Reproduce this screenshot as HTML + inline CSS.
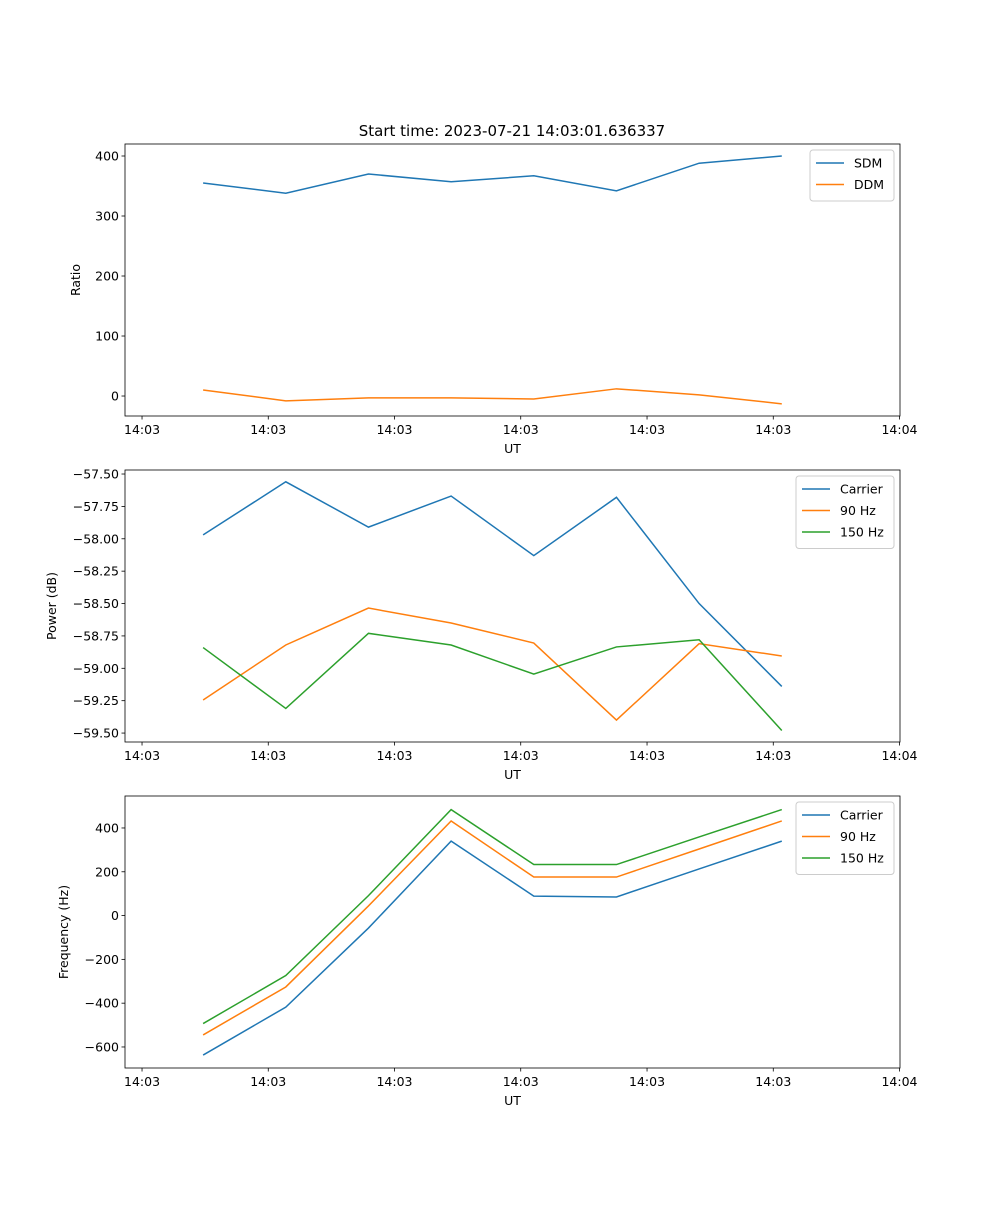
<!DOCTYPE html>
<html><head><meta charset="utf-8"><style>
body{margin:0;background:#fff}
svg text{font-family:"DejaVu Sans","Liberation Sans",sans-serif;font-size:12.5px;fill:#000}
</style></head><body>
<svg id="fig" width="1000" height="1200" xmlns="http://www.w3.org/2000/svg">
<text x="512" y="136" text-anchor="middle" style="font-size:15px">Start time: 2023-07-21 14:03:01.636337</text>
</svg>
<script>
const xIndex=[0,1,2,3,4,5,6,7];
const xTickPos=[-0.739,0.788,2.315,3.842,5.370,6.897,8.424];
const xTickLabels=["14:03","14:03","14:03","14:03","14:03","14:03","14:04"];
const sdm=[355,338,370,357,367,342,388,400];
const ddm=[10,-8,-3,-3,-5,12,2,-13];
const ratioTicks=[0,100,200,300,400];
const powCarrier=[-57.97,-57.56,-57.91,-57.67,-58.13,-57.68,-58.50,-59.14];
const pow90=[-59.245,-58.82,-58.535,-58.65,-58.805,-59.40,-58.81,-58.905];
const pow150=[-58.84,-59.31,-58.73,-58.82,-59.045,-58.835,-58.78,-59.48];
const powTicks=[-57.5,-57.75,-58.0,-58.25,-58.5,-58.75,-59.0,-59.25,-59.5];
const powTickLabels=["−57.50","−57.75","−58.00","−58.25","−58.50","−58.75","−59.00","−59.25","−59.50"];
const freqCarrier=[-637,-418,-57,340,89,85,213,340];
const freq90=[-545,-326,44,432,176,176,304,432];
const freq150=[-493,-274,91,484,233,233,359,484];
const freqTicks=[-600,-400,-200,0,200,400];
const C=["#1f77b4","#ff7f0e","#2ca02c"];
const svg=document.getElementById('fig');
const NS="http://www.w3.org/2000/svg";
function mk(t,a,p){const e=document.createElementNS(NS,t);for(const k in a)e.setAttribute(k,a[k]);(p||svg).appendChild(e);return e;}
const L=125,R=900,xmin=-0.945,xmax=8.43;
function xs(v){return L+(v-xmin)/(xmax-xmin)*(R-L);}
function panel(name,top,bot,ymin,ymax,yt,ytl,ylab,series,labels,legW){
  const g=mk('g',{});
  
  
  const ys=v=>bot-(v-ymin)/(ymax-ymin)*(bot-top);
  series.forEach((s,i)=>{
    const pl=mk('polyline',{points:s.map((v,j)=>xs(xIndex[j])+','+ys(v)).join(' '),fill:'none',stroke:C[i],'stroke-width':1.5},g);
    
    
  });
  const fr=mk('rect',{x:L,y:top,width:R-L,height:bot-top,fill:'none',stroke:'#000','stroke-width':0.8},g);
  
  
  xTickPos.forEach((v,i)=>{const x=xs(v);mk('line',{x1:x,x2:x,y1:bot,y2:bot+3.5,stroke:'#000','stroke-width':0.8},g);
    const t=mk('text',{x:x,y:bot+18,'text-anchor':'middle'},g);t.textContent=xTickLabels[i];
    
    });
  yt.forEach((v,i)=>{const y=ys(v);mk('line',{x1:L-3.5,x2:L,y1:y,y2:y,stroke:'#000','stroke-width':0.8},g);
    const t=mk('text',{x:L-6,y:y+4.5,'text-anchor':'end'},g);t.textContent=ytl[i];
    
    });
  const xl=mk('text',{x:(L+R)/2,y:bot+37,'text-anchor':'middle'},g);xl.textContent='UT';
  
  
  const yx=ylab.x;
  const yl=mk('text',{x:yx,y:(top+bot)/2,'text-anchor':'middle',transform:`rotate(-90 ${yx} ${(top+bot)/2})`},g);yl.textContent=ylab.t;
  
  
  const lx=R-6-legW,ly=top+6,lh=labels.length*21.5+8;
  const lg=mk('g',{},g);
  
  
  mk('rect',{x:lx,y:ly,width:legW,height:lh,rx:3,fill:'#fff','fill-opacity':0.8,stroke:'#ccc'},lg);
  labels.forEach((lb,i)=>{const yy=ly+13+i*21.5;
    mk('line',{x1:lx+6,x2:lx+34,y1:yy,y2:yy,stroke:C[i],'stroke-width':1.5},lg);
    const t=mk('text',{x:lx+44,y:yy+4.5},lg);t.textContent=lb;
    
    });
}
panel('ratio',144,416,-33.3,420,ratioTicks,ratioTicks.map(String),{x:80,t:'Ratio'},[sdm,ddm],['SDM','DDM'],84);
panel('power',470,742,-59.569,-57.469,powTicks,powTickLabels,{x:56,t:'Power (dB)'},[powCarrier,pow90,pow150],['Carrier','90 Hz','150 Hz'],98);
panel('frequency',796,1068,-696,546,freqTicks,freqTicks.map(v=>String(v).replace('-','−')),{x:68,t:'Frequency (Hz)'},[freqCarrier,freq90,freq150],['Carrier','90 Hz','150 Hz'],98);
</script>
</body></html>
